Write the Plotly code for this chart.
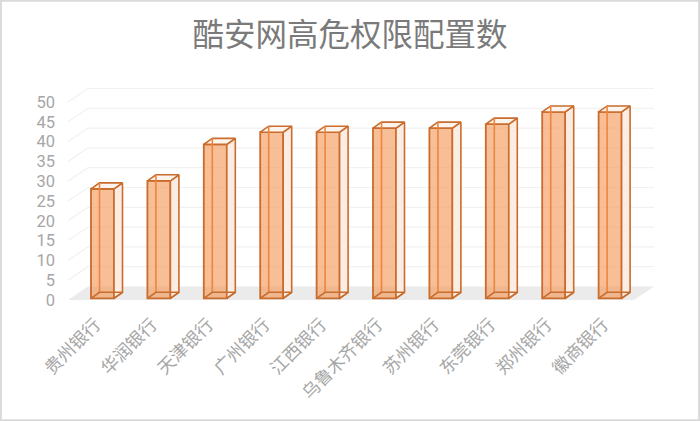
import plotly.graph_objects as go

categories = ["贵州银行", "华润银行", "天津银行", "广州银行", "江西银行", "乌鲁木齐银行", "苏州银行", "东莞银行", "郑州银行", "徽商银行"]
values = [27, 29, 38, 41, 41, 42, 42, 43, 46, 46]
y_ticks = [0, 5, 10, 15, 20, 25, 30, 35, 40, 45, 50]

FONT = "Noto Sans CJK SC"
EDGE = "#C96C2C"
INNER = "#EE853C"
FRONT = "rgba(244,150,85,0.62)"
SIDE = "#FBEDE4"
TOP = "#FDF4EE"
GRID = "#F1F1F1"
FLOOR = "#EBEBEB"

# pseudo-3D projection, in axis units
W = 700; H = 421
L, R, T, B = 56, 30, 80, 121
PX_X = 56.4; CX0 = 102.5; PX_Y = 3.96
xmin = (L - CX0) / PX_X; xmax = (W - R - CX0) / PX_X
ymax = (H - B - T) / PX_Y
half = 11.5 / PX_X
bar_dx = 8.5 / PX_X; bar_dy = 6 / PX_Y
base = 0.43; k = 1.023
wall_dx = 20 / PX_X; wall_dy = 13.5 / PX_Y
fl = (68 - CX0) / PX_X; fr = (634 - CX0) / PX_X


def poly(lst):
    xs, ys = [], []
    for p in lst:
        xs += [q[0] for q in p] + [None]
        ys += [q[1] for q in p] + [None]
    return xs, ys


fig = go.Figure()

shapes = [dict(type="path", layer="below", xref="x", yref="y", line_width=0, fillcolor=FLOOR,
               path=f"M{fl},0 L{fl+wall_dx},{wall_dy} L{fr+wall_dx},{wall_dy} L{fr},0 Z")]
for t in y_ticks[1:]:
    shapes.append(dict(type="path", layer="below", xref="x", yref="y", line=dict(color=GRID, width=1.2),
                       path=f"M{fl},{t} L{fl+wall_dx},{t+wall_dy} L{fr+wall_dx},{t+wall_dy}"))
# chart frame
shapes.append(dict(type="rect", xref="paper", yref="paper", layer="below",
                   x0=-L/(W-L-R)+0.001, x1=1+R/(W-L-R)-0.001, y0=-B/(H-T-B)+0.002, y1=1+T/(H-T-B)-0.002,
                   line=dict(color="#D9D9D9", width=2.5), fillcolor="rgba(0,0,0,0)"))

idx = list(range(len(values)))
tops = [base + k * v for v in values]

side = [[(i+half, base), (i+half+bar_dx, base+bar_dy), (i+half+bar_dx, t+bar_dy), (i+half, t), (i+half, base)] for i, t in zip(idx, tops)]
top = [[(i-half, t), (i-half+bar_dx, t+bar_dy), (i+half+bar_dx, t+bar_dy), (i+half, t), (i-half, t)] for i, t in zip(idx, tops)]
bottom = [[(i-half, base), (i-half+bar_dx, base+bar_dy), (i+half+bar_dx, base+bar_dy), (i+half, base)] for i in idx]
backleft = [[(i-half+bar_dx, base+bar_dy), (i-half+bar_dx, t+bar_dy)] for i, t in zip(idx, tops)]

fig.add_bar(x=idx, y=[t - base for t in tops], base=[base]*len(idx), width=2*half,
            marker=dict(color=FRONT, line=dict(color=EDGE, width=1.8)), hoverinfo="skip", showlegend=False)
for pts, fill in ((side, SIDE), (top, TOP)):
    xs, ys = poly(pts)
    fig.add_scatter(x=xs, y=ys, mode="lines", fill="toself", fillcolor=fill,
                    line=dict(color=EDGE, width=1.6), hoverinfo="skip", showlegend=False)
xs, ys = poly(backleft)
fig.add_scatter(x=xs, y=ys, mode="lines", line=dict(color=INNER, width=1.6), hoverinfo="skip", showlegend=False)
xs, ys = poly(bottom)
fig.add_scatter(x=xs, y=ys, mode="lines", line=dict(color=EDGE, width=1.6), hoverinfo="skip", showlegend=False)

fig.update_layout(
    width=W, height=H, margin=dict(l=L, r=R, t=T, b=B, pad=0),
    paper_bgcolor="white", plot_bgcolor="rgba(0,0,0,0)", shapes=shapes, showlegend=False,
    title=dict(text="酷安网高危权限配置数", x=350/W, xanchor="center", y=1-35/H, yanchor="middle",
               font=dict(family=FONT, size=31.5, color="#7A7A7A")),
    xaxis=dict(range=[xmin, xmax], tickmode="array", tickvals=idx, ticktext=categories, tickangle=-45,
               showgrid=False, zeroline=False, showline=False, ticks="", ticklen=0,
               ticklabelstandoff=10, ticklabelshift=-7,
               tickfont=dict(family=FONT, size=17.5, color="#A6A6A6")),
    yaxis=dict(range=[0, ymax], tickmode="array", tickvals=y_ticks, showgrid=False, zeroline=False,
               showline=False, ticks="", tickfont=dict(family="Roboto", size=16.5, color="#A6A6A6")),
)
fig.write_html("out.html", post_script="document.body.style.margin='0';", config={"displayModeBar": False})
